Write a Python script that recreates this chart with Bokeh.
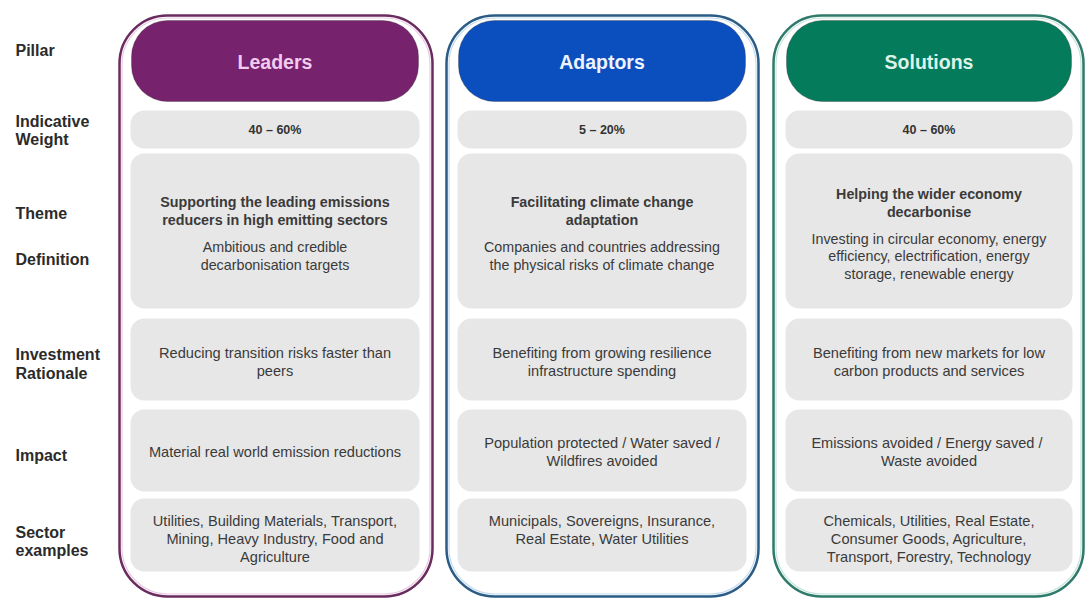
from bokeh.plotting import figure
from bokeh.models import Range1d
from bokeh.core.properties import value
from bokeh.embed import file_html
from bokeh.resources import INLINE

# ---- content ----
row_labels = ["Pillar", "Indicative\nWeight", "Theme", "Definition",
              "Investment\nRationale", "Impact", "Sector\nexamples"]
pillars = ["Leaders", "Adaptors", "Solutions"]
weights = ["40 – 60%", "5 – 20%", "40 – 60%"]
themes = ["Supporting the leading emissions\nreducers in high emitting sectors",
          "Facilitating climate change\nadaptation",
          "Helping the wider economy\ndecarbonise"]
definitions = ["Ambitious and credible\ndecarbonisation targets",
               "Companies and countries addressing\nthe physical risks of climate change",
               "Investing in circular economy, energy\nefficiency, electrification, energy\nstorage, renewable energy"]
rationales = ["Reducing transition risks faster than\npeers",
              "Benefiting from growing resilience\ninfrastructure spending",
              "Benefiting from new markets for low\ncarbon products and services"]
impacts = ["Material real world emission reductions",
           "Population protected / Water saved /\nWildfires avoided",
           "Emissions avoided / Energy saved  /\nWaste avoided"]
sectors = ["Utilities, Building Materials, Transport,\nMining, Heavy Industry, Food and\nAgriculture",
           "Municipals, Sovereigns, Insurance,\nReal Estate, Water Utilities",
           "Chemicals, Utilities, Real Estate,\nConsumer Goods, Agriculture,\nTransport, Forestry, Technology"]

# ---- styling ----
pill_fill = ["#76226D", "#0B4FBE", "#047B5B"]
pill_text = ["#F3CBEF", "#EEF3FF", "#DDF3EA"]
outline_dark = ["#6A2C5F", "#2A5C86", "#2F7A6A"]
outline_light = ["#EBCBE5", "#C4DCF0", "#C4E6DB"]
box_fill = "#E7E7E7"
body_color = "#3A3A3A"
label_color = "#2B2B2B"
FONT = value("Liberation Sans")
BODY = "14.6px"

col_left = [130, 457, 785]
col_right = [419, 746, 1072]
out_left = [119, 446, 773]
out_right = [432, 758, 1083]

p = figure(width=1088, height=599, x_range=Range1d(0, 1088), y_range=Range1d(599, 0),
           output_backend="svg", toolbar_location=None, min_border=0,
           x_axis_type=None, y_axis_type=None)
p.grid.visible = False
p.outline_line_color = None
p.background_fill_color = "#FFFFFF"

# outlines
p.quad(left=out_left, right=out_right, top=[15] * 3, bottom=[596] * 3,
       fill_color=None, line_color=outline_dark, line_width=2.5, border_radius=48)
p.quad(left=[l + 2.5 for l in out_left], right=[r - 2.5 for r in out_right],
       top=[17.5] * 3, bottom=[593.5] * 3,
       fill_color=None, line_color=outline_light, line_width=1.2, border_radius=46)

# header pills
p.quad(left=[c + 1 for c in col_left], right=[c - 1 for c in col_right],
       top=[20] * 3, bottom=[101] * 3, fill_color=pill_fill,
       line_color="#3C3C3C", line_alpha=0.35, line_width=1, border_radius=36)

# grey boxes
rows = [(110, 148), (153, 308), (318, 400), (409, 491), (498, 571)]
for top, bot in rows:
    p.quad(left=col_left, right=col_right, top=[top] * 3, bottom=[bot] * 3,
           fill_color=box_fill, line_color=None, border_radius=14)

cx = [(l + r) / 2 for l, r in zip(col_left, col_right)]


def put(xs, ys, texts, size, bold=False, color=body_color, align="center"):
    p.text(x=xs, y=ys, text=texts, text_align=align, text_baseline="middle",
           text_font=FONT, text_font_size=size,
           text_font_style="bold" if bold else "normal", text_color=color)


def lines_block(items, center, step, size, bold=False, top_start=None):
    xs, ys, ts = [], [], []
    for i, s in enumerate(items):
        parts = s.split("\n")
        n = len(parts)
        for j, part in enumerate(parts):
            if top_start is not None:
                y = top_start + j * step
            else:
                y = center + (j - (n - 1) / 2) * step
            xs.append(cx[i]); ys.append(y); ts.append(part)
    put(xs, ys, ts, size, bold)


# headers
put(cx, [61] * 3, pillars, "19.5px", bold=True, color=pill_text)
# weights
put(cx, [129] * 3, weights, "12.5px", bold=True, color="#333333")

# theme + definition blocks (centred together)
xs, ys, ts, fs = [], [], [], []
for i in range(3):
    th = themes[i].split("\n")
    de = definitions[i].split("\n")
    h = (len(th) - 1) * 18 + 27 + (len(de) - 1) * 17.5
    y0 = 233 - h / 2
    for j, part in enumerate(th):
        xs.append(cx[i]); ys.append(y0 + j * 18); ts.append(part); fs.append("bold")
    y1 = y0 + (len(th) - 1) * 18 + 27
    for j, part in enumerate(de):
        xs.append(cx[i]); ys.append(y1 + j * 17.5); ts.append(part); fs.append("normal")
p.text(x=xs, y=ys, text=ts, text_font_style=fs, text_align="center",
       text_baseline="middle", text_font=FONT, text_font_size="14.3px",
       text_color=body_color)

lines_block(rationales, 361, 18, BODY)
lines_block(impacts, 451, 18, BODY)
lines_block(sectors, None, 18, BODY, top_start=520)

# row labels
label_y = [[50], [121, 139], [213], [259], [354, 373], [455], [532, 550]]
lx, ly, lt = [], [], []
for lab, ys_ in zip(row_labels, label_y):
    for part, y in zip(lab.split("\n"), ys_):
        lx.append(15); ly.append(y); lt.append(part)
put(lx, ly, lt, "16px", bold=True, color=label_color, align="left")

open("out.html", "w").write(file_html(p, INLINE))
